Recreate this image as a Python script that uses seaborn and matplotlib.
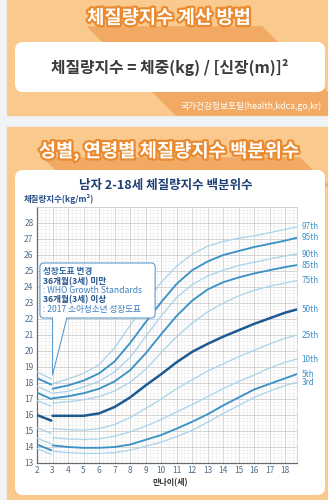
import matplotlib
matplotlib.use("Agg")
import numpy as np
import pandas as pd
import matplotlib.pyplot as plt
import matplotlib.patheffects as pe
from matplotlib.patches import FancyBboxPatch, Polygon, Rectangle
from matplotlib.ticker import MultipleLocator, FixedLocator, FixedFormatter
import seaborn as sns

# ---------------- data ----------------
percentiles = ["97th", "95th", "90th", "85th", "75th", "50th", "25th", "10th", "5th", "3rd"]
line_level = ["light", "medium", "light", "medium", "light", "dark", "light", "light", "medium", "light"]

# WHO Growth Standards (under 36 months)
ages_who = [2.0, 2.92]
who_97 = [18.70, 18.25]
who_95 = [18.30, 17.90]
who_90 = [17.80, 17.40]
who_85 = [17.40, 17.00]
who_75 = [16.90, 16.55]
who_50 = [16.00, 15.65]
who_25 = [15.20, 14.85]
who_10 = [14.55, 14.20]
who_5 = [14.15, 13.80]
who_3 = [13.90, 13.55]

# 2017 Korean growth chart (36 months and older)
ages_kr = [3, 4, 5, 6, 7, 8, 9, 10, 11, 12, 13, 14, 15, 16, 17, 18, 18.75]
kr_97 = [17.95, 18.25, 18.60, 19.15, 20.20, 21.60, 23.00, 24.30, 25.30, 26.05, 26.55, 26.85, 27.05, 27.20, 27.40, 27.60, 27.77]
kr_95 = [17.64, 17.85, 18.15, 18.60, 19.35, 20.50, 21.80, 23.05, 24.20, 25.05, 25.60, 26.00, 26.25, 26.50, 26.70, 26.90, 27.08]
kr_90 = [17.36, 17.48, 17.75, 18.10, 18.70, 19.60, 20.90, 22.20, 23.35, 24.15, 24.70, 25.05, 25.35, 25.55, 25.75, 25.95, 26.06]
kr_85 = [17.04, 17.17, 17.36, 17.64, 18.10, 18.80, 19.85, 21.05, 22.20, 23.15, 23.85, 24.30, 24.60, 24.85, 25.05, 25.25, 25.37]
kr_75 = [16.75, 16.83, 16.95, 17.15, 17.50, 18.05, 18.85, 19.90, 20.90, 21.75, 22.45, 23.00, 23.45, 23.80, 24.05, 24.25, 24.40]
kr_50 = [15.95, 15.95, 15.95, 16.10, 16.50, 17.10, 17.85, 18.55, 19.30, 19.95, 20.45, 20.90, 21.30, 21.70, 22.05, 22.40, 22.60]
kr_25 = [15.15, 15.08, 15.05, 15.15, 15.40, 15.85, 16.40, 17.00, 17.65, 18.20, 18.75, 19.20, 19.65, 20.05, 20.45, 20.80, 21.00]
kr_10 = [14.58, 14.50, 14.47, 14.50, 14.68, 14.95, 15.30, 15.72, 16.20, 16.65, 17.15, 17.65, 18.10, 18.50, 18.95, 19.30, 19.50]
kr_5 = [14.10, 14.00, 13.95, 13.95, 14.00, 14.15, 14.45, 14.75, 15.15, 15.58, 16.05, 16.60, 17.10, 17.60, 17.95, 18.30, 18.56]
kr_3 = [13.74, 13.65, 13.60, 13.60, 13.65, 13.80, 14.05, 14.30, 14.65, 15.05, 15.55, 16.10, 16.60, 17.10, 17.50, 17.85, 18.04]

x_ticks = list(range(2, 19))
x_tick_labels = [str(v) for v in x_ticks]
y_ticks = list(range(13, 30))
y_tick_labels = [str(v) for v in range(13, 29)] + [""]

who_series = [who_97, who_95, who_90, who_85, who_75, who_50, who_25, who_10, who_5, who_3]
kr_series = [kr_97, kr_95, kr_90, kr_85, kr_75, kr_50, kr_25, kr_10, kr_5, kr_3]

rows = []
for p, w, k in zip(percentiles, who_series, kr_series):
    for a, v in zip(ages_who, w):
        rows.append({"age": a, "bmi": v, "pct": p, "src": "WHO"})
    for a, v in zip(ages_kr, k):
        rows.append({"age": a, "bmi": v, "pct": p, "src": "KR"})
df = pd.DataFrame(rows)

# ---------------- style ----------------
sns.set_theme(style="white")
plt.rcParams["font.family"] = ["Noto Sans CJK KR", "DejaVu Sans"]

level_color = {"light": "#a9d3ea", "medium": "#3b92c5", "dark": "#1d5a92"}
level_width = {"light": 0.9, "medium": 1.35, "dark": 1.8}
palette = {p: level_color[l] for p, l in zip(percentiles, line_level)}
sizes = {p: level_width[l] for p, l in zip(percentiles, line_level)}

W, H = 328, 500
fig = plt.figure(figsize=(W / 100, H / 100), dpi=100)

# background layer in pixel coordinates
bg = fig.add_axes([0, 0, 1, 1])
bg.set_xlim(0, W)
bg.set_ylim(H, 0)
bg.axis("off")

ORANGE = "#f9c98e"
DARK_OR = "#f2a964"
bg.add_patch(Rectangle((0, 0), W, H, color="#eef3f7", zorder=0))
bg.add_patch(Rectangle((7, 0), W - 7, 115, color=ORANGE, zorder=1))
bg.add_patch(Rectangle((7, 127), W - 7, H - 127, color=ORANGE, zorder=1))
bg.add_patch(Polygon([(88, 27), (262, 27), (350, 115), (176, 115)], closed=True, color=DARK_OR, zorder=2))
bg.add_patch(Polygon([(44, 158), (300, 158), (328, 186), (72, 186)], closed=True, color=DARK_OR, zorder=2))
bg.add_patch(FancyBboxPatch((15, 42), 310, 50, boxstyle="round,pad=0,rounding_size=8",
                            fc="white", ec="none", zorder=3))
bg.add_patch(FancyBboxPatch((15, 170), 310, 325, boxstyle="round,pad=0,rounding_size=8",
                            fc="white", ec="none", zorder=3))

stroke = [pe.withStroke(linewidth=3.2, foreground="#ea8a30")]
bg.text(169, 18, "체질량지수 계산 방법", ha="center", va="center", fontsize=13.5,
        fontweight="bold", color="white", path_effects=stroke, zorder=4)
bg.text(170, 67, "체질량지수 = 체중(kg) / [신장(m)]²", ha="center", va="center",
        fontsize=11.4, fontweight="bold", color="#3b3b3b", zorder=4)
bg.text(322, 106, "국가건강정보포털(health,kdca,go,kr)", ha="right", va="center",
        fontsize=6.3, color="white", zorder=4)
bg.text(169, 151, "성별, 연령별 체질량지수 백분위수", ha="center", va="center", fontsize=13.5,
        fontweight="bold", color="white", path_effects=stroke, zorder=4)
bg.text(166, 185, "남자 2-18세 체질량지수 백분위수", ha="center", va="center", fontsize=9,
        fontweight="bold", color="#1d3f73", zorder=4)
bg.text(24, 199, "체질량지수(kg/m²)", ha="left", va="center", fontsize=6.1,
        fontweight="bold", color="#2a5288", zorder=4)
bg.text(170, 483, "만나이(세)", ha="center", va="center", fontsize=5.8,
        fontweight="bold", color="#333333", zorder=4)

# chart axes
ax = fig.add_axes([37 / W, 1 - 463 / H, 260 / W, 256 / H])
ax.set_facecolor("white")

sns.lineplot(data=df, x="age", y="bmi", hue="pct", size="pct", units="src",
             estimator=None, sort=False, palette=palette, sizes=sizes,
             legend=False, ax=ax, zorder=3)

ax.set_xlim(2, 18.75)
ax.set_ylim(13, 29)
ax.xaxis.set_major_locator(FixedLocator(x_ticks))
ax.xaxis.set_major_formatter(FixedFormatter(x_tick_labels))
ax.yaxis.set_major_locator(FixedLocator(y_ticks))
ax.yaxis.set_major_formatter(FixedFormatter(y_tick_labels))
ax.xaxis.set_minor_locator(MultipleLocator(0.25))
ax.yaxis.set_minor_locator(MultipleLocator(0.2))
ax.grid(which="major", color="#cdcdcd", lw=0.6)
ax.grid(which="minor", color="#ececec", lw=0.4)
ax.set_axisbelow(True)
ax.tick_params(which="both", length=0, labelsize=6, labelcolor="#4f6d8c", pad=2.5)
ax.set_xlabel("")
ax.set_ylabel("")
for s in ["left", "bottom"]:
    ax.spines[s].set_color("#6a6a6a")
    ax.spines[s].set_linewidth(0.9)
for s in ["top", "right"]:
    ax.spines[s].set_color("#d0d0d0")
    ax.spines[s].set_linewidth(0.6)

# percentile labels at line ends
for p, k in zip(percentiles, kr_series):
    ax.annotate(p, xy=(ages_kr[-1], k[-1]), xytext=(3.4, 0), textcoords="offset points",
                ha="left", va="center", fontsize=5.9, color="#3f8fc4", annotation_clip=False)

# callout
edge = "#5b9bd0"
ax.add_patch(FancyBboxPatch((2.19, 22.06), 7.42, 3.44, boxstyle="round,pad=0,rounding_size=0.25",
                            fc="white", ec=edge, lw=0.8, zorder=6))
ax.add_patch(Polygon([(3.0, 22.14), (3.0, 18.5), (3.92, 22.14)], closed=True, fc="white",
                     ec="none", zorder=7))
ax.plot([3.0, 3.0, 3.92], [22.06, 18.5, 22.06], color=edge, lw=0.8, zorder=8)

tx = 2.37
fs = 6.2
ax.text(tx, 24.98, "성장도표 변경", fontsize=fs, fontweight="bold", color="#2c68a6", va="center", zorder=9)
ax.text(tx, 24.36, "36개월(3세) 미만", fontsize=fs, fontweight="bold", color="#1f4f8a", va="center", zorder=9)
ax.text(tx, 23.77, ": WHO Growth Standards", fontsize=fs, color="#3c7fbd", va="center", zorder=9)
ax.text(tx, 23.18, "36개월(3세) 이상", fontsize=fs, fontweight="bold", color="#1f4f8a", va="center", zorder=9)
ax.text(tx, 22.58, ": 2017 소아청소년 성장도표", fontsize=fs, color="#3c7fbd", va="center", zorder=9)

fig.savefig("out.png", dpi=100)
